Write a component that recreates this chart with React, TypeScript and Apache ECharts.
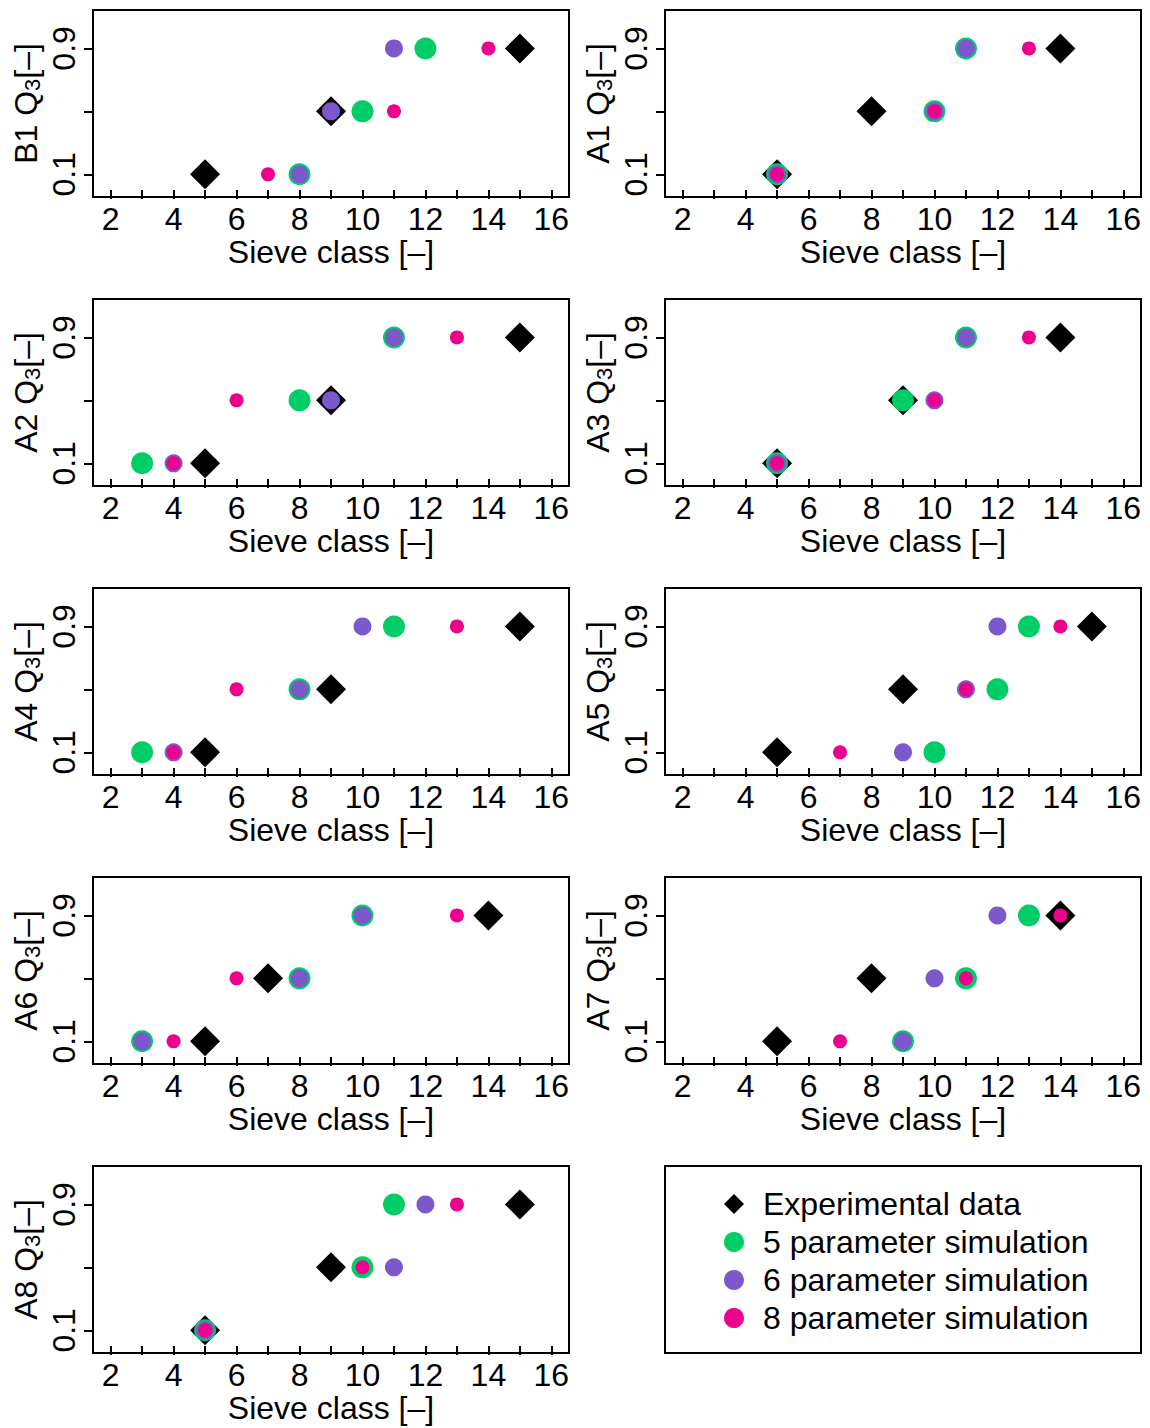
import React, { useEffect, useRef } from "react";
import * as echarts from "echarts";

const panelNames = ["B1", "A1", "A2", "A3", "A4", "A5", "A6", "A7", "A8"];
const qLevels = [0.1, 0.5, 0.9];
const seriesNames = [
  "Experimental data",
  "5 parameter simulation",
  "6 parameter simulation",
  "8 parameter simulation",
];
// sieve class at which each Q3 level (0.1, 0.5, 0.9) is reached, per panel
const expData = [[5, 9, 15], [5, 8, 14], [5, 9, 15], [5, 9, 14], [5, 9, 15], [5, 9, 15], [5, 7, 14], [5, 8, 14], [5, 9, 15]];
const sim5Data = [[8, 10, 12], [5, 10, 11], [3, 8, 11], [5, 9, 11], [3, 8, 11], [10, 12, 13], [3, 8, 10], [9, 11, 13], [5, 10, 11]];
const sim6Data = [[8, 9, 11], [5, 10, 11], [4, 9, 11], [5, 10, 11], [4, 8, 10], [9, 11, 12], [3, 8, 10], [9, 10, 12], [5, 11, 12]];
const sim8Data = [[7, 11, 14], [5, 10, 13], [4, 6, 13], [5, 10, 13], [4, 6, 13], [7, 11, 14], [4, 6, 13], [7, 11, 14], [5, 10, 13]];

const xTickValues = [2, 3, 4, 5, 6, 7, 8, 9, 10, 11, 12, 13, 14, 15, 16];
const xLabelValues = [2, 4, 6, 8, 10, 12, 14, 16];
const yTickValues = [0.1, 0.5, 0.9];
const yLabelValues = [0.1, 0.9];

const colors = ["#000000", "#00CD66", "#7B59CC", "#EC008C"];
const symbols = ["diamond", "circle", "circle", "circle"];
const sizes = [30, 22, 18, 14];

const FONT = "Liberation Sans, Arial, Helvetica, sans-serif";
const FS = 32;

export default function App() {
  const ref = useRef<HTMLDivElement>(null);
  useEffect(() => {
    if (!ref.current) return;
    const chart = echarts.init(ref.current, null, { renderer: "svg" });
    const colLeft = [93, 665];
    const rowTop = [10, 299, 588, 877, 1166];
    const W = 476;
    const H = 187;
    const grids: any[] = [];
    const xAxes: any[] = [];
    const yAxes: any[] = [];
    const series: any[] = [];
    const allData = [expData, sim5Data, sim6Data, sim8Data];
    panelNames.forEach((p, i) => {
      const col = i % 2;
      const row = Math.floor(i / 2);
      grids.push({
        left: colLeft[col],
        top: rowTop[row],
        width: W,
        height: H,
        show: true,
        borderColor: "#000",
        borderWidth: 2,
        backgroundColor: "transparent",
      });
      xAxes.push({
        type: "value",
        gridIndex: i,
        min: 1.44,
        max: 16.56,
        axisLine: { show: false },
        splitLine: { show: false },
        axisTick: {
          show: true,
          inside: false,
          length: 9,
          customValues: xTickValues,
          lineStyle: { color: "#000", width: 2 },
        },
        axisLabel: {
          show: true,
          customValues: xLabelValues,
          margin: 6,
          fontSize: FS,
          color: "#000",
          fontFamily: FONT,
        },
        name: "Sieve class [–]",
        nameLocation: "middle",
        nameGap: 38,
        nameTextStyle: { fontSize: FS, color: "#000", fontFamily: FONT },
      });
      yAxes.push({
        type: "value",
        gridIndex: i,
        min: -0.044,
        max: 1.144,
        axisLine: { show: false },
        splitLine: { show: false },
        axisTick: {
          show: true,
          inside: false,
          length: 9,
          customValues: yTickValues,
          lineStyle: { color: "#000", width: 2 },
        },
        axisLabel: {
          show: true,
          customValues: yLabelValues,
          rotate: 90,
          margin: 13,
          fontSize: FS,
          color: "#000",
          fontFamily: FONT,
        },
        name: `{n|${p} Q}{s|3}{n|[–]}`,
        nameLocation: "middle",
        nameRotate: 90,
        nameGap: 50,
        nameTextStyle: {
          fontSize: FS,
          color: "#000",
          fontFamily: FONT,
          rich: {
            n: { fontSize: FS, color: "#000", fontFamily: FONT, lineHeight: 35, verticalAlign: "middle" },
            s: { fontSize: 22, color: "#000", fontFamily: FONT, lineHeight: 35, verticalAlign: "bottom" },
          },
        },
      });
      allData.forEach((d, k) => {
        series.push({
          type: "scatter",
          name: seriesNames[k],
          xAxisIndex: i,
          yAxisIndex: i,
          symbol: symbols[k],
          symbolSize: sizes[k],
          itemStyle: { color: colors[k], opacity: 1 },
          z: 2 + k,
          data: d[i].map((x, j) => [x, qLevels[j]]),
        });
      });
    });
    chart.setOption({
      animation: false,
      backgroundColor: "#fff",
      grid: grids,
      xAxis: xAxes,
      yAxis: yAxes,
      series,
      legend: {
        orient: "vertical",
        left: 724,
        top: 1188,
        padding: 0,
        itemWidth: 20,
        itemHeight: 20,
        itemGap: 6,
        selectedMode: false,
        textStyle: { fontSize: FS, color: "#000", fontFamily: FONT, padding: [0, 0, 0, 14] },
        data: seriesNames.map((n, k) => ({
          name: n,
          icon: symbols[k],
          itemStyle: { color: colors[k] },
        })),
      },
      graphic: [
        {
          type: "rect",
          shape: { x: 665, y: 1166, width: W, height: H },
          style: { fill: "none", stroke: "#000", lineWidth: 2 },
          silent: true,
        },
      ],
    });
    return () => chart.dispose();
  }, []);
  return (
    <div
      ref={ref}
      style={{ position: "absolute", left: 0, top: 0, width: 1150, height: 1428 }}
    />
  );
}
